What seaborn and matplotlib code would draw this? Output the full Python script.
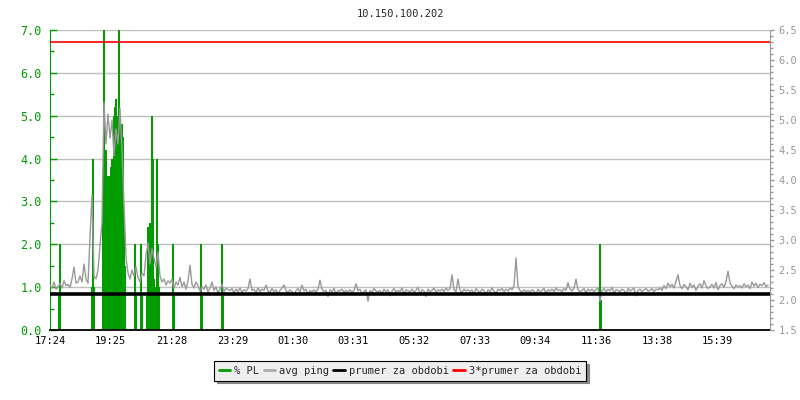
import numpy as np
import pandas as pd
import matplotlib
matplotlib.use("Agg")
import matplotlib.pyplot as plt
from matplotlib.lines import Line2D
from matplotlib.ticker import MultipleLocator
import seaborn as sns

# time axis: minutes from 17:24, tick labels as printed
tick_minutes = [0, 121, 244, 365, 486, 607, 728, 849, 970, 1092, 1214, 1335]
tick_labels = ["17:24", "19:25", "21:28", "23:29", "01:30", "03:31",
               "05:32", "07:33", "09:34", "11:36", "13:38", "15:39"]

# avg ping (right axis), one value every 4 minutes, one row = one hour
ping_step = 4
ping_rows = [
    [2.25, 2.20, 2.30, 2.18, 2.22, 2.28, 2.20, 2.32, 2.24, 2.26, 2.21, 2.35, 2.55, 2.28, 2.30],
    [2.40, 2.30, 2.60, 2.35, 2.28, 3.05, 3.75, 2.40, 2.35, 2.50, 2.90, 3.30, 5.30, 4.60, 5.10],
    [4.70, 5.00, 4.40, 4.85, 4.60, 5.20, 4.50, 3.60, 2.70, 2.45, 2.35, 2.50, 2.40, 2.55, 2.38],
    [2.30, 2.45, 2.40, 2.75, 2.95, 2.60, 2.85, 2.70, 2.55, 2.80, 2.40, 2.30, 2.35, 2.25, 2.32],
    [2.28, 2.35, 2.20, 2.30, 2.25, 2.38, 2.22, 2.30, 2.18, 2.32, 2.58, 2.26, 2.20, 2.30, 2.24],
    [2.15, 2.22, 2.18, 2.25, 2.14, 2.20, 2.30, 2.16, 2.22, 2.12, 2.18, 2.26, 2.14, 2.20, 2.17],
    [2.16, 2.19, 2.12, 2.18, 2.14, 2.20, 2.13, 2.17, 2.15, 2.19, 2.35, 2.16, 2.18, 2.12, 2.20],
    [2.14, 2.18, 2.16, 2.25, 2.15, 2.13, 2.19, 2.14, 2.17, 2.10, 2.16, 2.20, 2.25, 2.15, 2.13],
    [2.17, 2.14, 2.08, 2.16, 2.19, 2.13, 2.25, 2.15, 2.18, 2.09, 2.16, 2.14, 2.17, 2.13, 2.19],
    [2.33, 2.18, 2.14, 2.16, 2.06, 2.17, 2.14, 2.19, 2.10, 2.16, 2.15, 2.18, 2.13, 2.16, 2.14],
    [2.17, 2.13, 2.16, 2.27, 2.15, 2.18, 2.10, 2.14, 2.17, 1.98, 2.16, 2.13, 2.19, 2.15, 2.14],
    [2.16, 2.10, 2.18, 2.14, 2.17, 2.07, 2.15, 2.19, 2.13, 2.16, 2.14, 2.20, 2.10, 2.17, 2.15],
    [2.14, 2.18, 2.13, 2.16, 2.21, 2.10, 2.17, 2.15, 2.06, 2.18, 2.14, 2.16, 2.20, 2.13, 2.17],
    [2.15, 2.18, 2.14, 2.20, 2.16, 2.19, 2.42, 2.17, 2.14, 2.35, 2.16, 2.13, 2.18, 2.15, 2.17],
    [2.14, 2.17, 2.10, 2.19, 2.15, 2.13, 2.18, 2.16, 2.08, 2.17, 2.14, 2.20, 2.15, 2.11, 2.18],
    [2.16, 2.19, 2.14, 2.18, 2.15, 2.20, 2.17, 2.24, 2.70, 2.22, 2.16, 2.12, 2.17, 2.14, 2.16],
    [2.13, 2.17, 2.15, 2.09, 2.18, 2.14, 2.16, 2.19, 2.11, 2.17, 2.15, 2.18, 2.14, 2.20, 2.16],
    [2.17, 2.14, 2.19, 2.16, 2.29, 2.18, 2.15, 2.20, 2.35, 2.17, 2.14, 2.16, 2.19, 2.12, 2.18],
    [2.15, 2.18, 2.14, 2.17, 2.20, 1.98, 2.16, 2.19, 2.14, 2.18, 2.15, 2.21, 2.12, 2.17, 2.16],
    [2.14, 2.18, 2.16, 2.10, 2.19, 2.15, 2.17, 2.20, 2.07, 2.16, 2.18, 2.14, 2.17, 2.19, 2.15],
    [2.16, 2.19, 2.14, 2.18, 2.17, 2.20, 2.16, 2.24, 2.19, 2.28, 2.22, 2.26, 2.20, 2.31, 2.42],
    [2.24, 2.19, 2.26, 2.22, 2.17, 2.28, 2.21, 2.25, 2.16, 2.23, 2.27, 2.20, 2.32, 2.24, 2.19],
    [2.22, 2.26, 2.20, 2.29, 2.17, 2.24, 2.27, 2.21, 2.31, 2.48, 2.28, 2.23, 2.19, 2.25, 2.22],
    [2.24, 2.20, 2.27, 2.22, 2.25, 2.19, 2.30, 2.23, 2.28, 2.21, 2.26, 2.24, 2.29, 2.22, 2.25],
]
ping = [v for row in ping_rows for v in row]

# packet loss % (left axis): minute from 17:24 and value, zero elsewhere
pl_minutes = [16, 18,
              82, 84, 86,
              104, 106, 108, 110, 112, 114, 116, 118, 120, 122, 124, 126, 128, 130,
              132, 134, 136, 138, 140, 142, 144, 146, 148,
              168, 170, 180, 182,
              192, 194, 196, 198, 200, 202, 204, 206,
              210, 212, 214, 216,
              244, 246, 300, 302, 342, 344,
              1098, 1100]
pl_values = [0.8, 2.0,
             1.0, 4.0, 1.0,
             3.0, 7.0, 3.5, 4.2, 3.6, 2.0, 3.6, 2.0, 3.8, 4.0, 3.9, 5.0, 5.2, 5.4,
             5.0, 4.6, 7.0, 5.0, 4.0, 4.8, 4.5, 2.5, 1.5,
             2.0, 0.8, 2.0, 0.8,
             0.8, 2.4, 1.7, 2.5, 2.0, 5.0, 4.0, 1.2,
             1.0, 4.0, 2.0, 1.0,
             2.0, 0.8, 2.0, 0.8, 2.0, 0.8,
             2.0, 0.7]

prumer = 2.098  # period average of ping

GREEN = "#009c00"
GRAY = "#999999"

sns.set_style("white")
plt.rcParams["font.family"] = ["DejaVu Sans Mono"]

df_ping = pd.DataFrame({"minute": np.arange(len(ping)) * ping_step, "ping": ping})
df_pl = pd.DataFrame({"minute": pl_minutes, "pl": pl_values})

fig = plt.figure(figsize=(8, 4), dpi=100)
ax = fig.add_axes([0.0625, 0.175, 0.9, 0.75])
ax2 = ax.twinx()

ax.bar(df_pl["minute"], df_pl["pl"], width=3.6, color=GREEN, linewidth=0, align="edge")
ax.set_xlim(0, 1440)
ax.set_ylim(0, 7)
ax.yaxis.set_major_locator(MultipleLocator(1))
ax.yaxis.set_minor_locator(MultipleLocator(0.5))
ax.set_yticklabels([f"{v:.1f}" for v in ax.get_yticks()])
ax.grid(axis="y", color="#c0c0c0", linewidth=1)
ax.set_axisbelow(True)
ax.set_xticks(tick_minutes)
ax.set_xticklabels(tick_labels)
ax.tick_params(axis="y", which="both", direction="in", colors=GREEN, labelsize=8.5, pad=6)
ax.tick_params(axis="y", which="major", length=5, width=1)
ax.tick_params(axis="y", which="minor", length=3, width=1)
ax.tick_params(axis="x", direction="in", length=5, width=1, colors="black", labelsize=7.5, pad=4)
ax.spines["left"].set_color(GREEN)
ax.spines["bottom"].set_color("black")
ax.spines["bottom"].set_linewidth(1.3)
ax.spines["top"].set_visible(False)
ax.spines["right"].set_visible(False)
ax.set_xlabel("")
ax.set_ylabel("")

sns.lineplot(data=df_ping, x="minute", y="ping", ax=ax2, color=GRAY, linewidth=1)
ax2.axhline(prumer, color="black", linewidth=2.6)
ax2.axhline(3 * prumer, color="#ff0000", linewidth=1.2)
ax2.set_ylim(1.5, 6.5)
ax2.set_xlim(0, 1440)
ax2.yaxis.set_major_locator(MultipleLocator(0.5))
ax2.yaxis.set_minor_locator(MultipleLocator(0.1))
ax2.set_yticklabels([f"{v:.1f}" for v in ax2.get_yticks()])
ax2.tick_params(axis="y", which="both", direction="out", colors=GRAY, labelsize=7.5, pad=3)
ax2.tick_params(axis="y", which="major", length=3, width=1)
ax2.tick_params(axis="y", which="minor", length=2, width=1)
for side in ["left", "top", "bottom"]:
    ax2.spines[side].set_visible(False)
ax2.spines["right"].set_color(GRAY)
ax2.set_xlabel("")
ax2.set_ylabel("")

fig.text(0.5, 0.965, "10.150.100.202", ha="center", va="center", fontsize=7.5)

handles = [Line2D([], [], color=GREEN, lw=2),
           Line2D([], [], color="#aaaaaa", lw=2),
           Line2D([], [], color="black", lw=2),
           Line2D([], [], color="#ff0000", lw=2)]
labels = ["% PL", "avg ping", "prumer za obdobi", "3*prumer za obdobi"]
leg = fig.legend(handles, labels, loc="center", bbox_to_anchor=(0.5, 0.0725), ncol=4,
                 fontsize=7.5, frameon=True, fancybox=False,
                 shadow={"color": "#888888", "alpha": 1.0},
                 handlelength=1.1, handletextpad=0.4, columnspacing=0.4,
                 borderpad=0.45, borderaxespad=0)
leg.get_frame().set_facecolor("#eeeeee")
leg.get_frame().set_edgecolor("black")
leg.get_frame().set_alpha(1)
leg.get_frame().set_linewidth(0.8)

fig.savefig("out.png", dpi=100)
